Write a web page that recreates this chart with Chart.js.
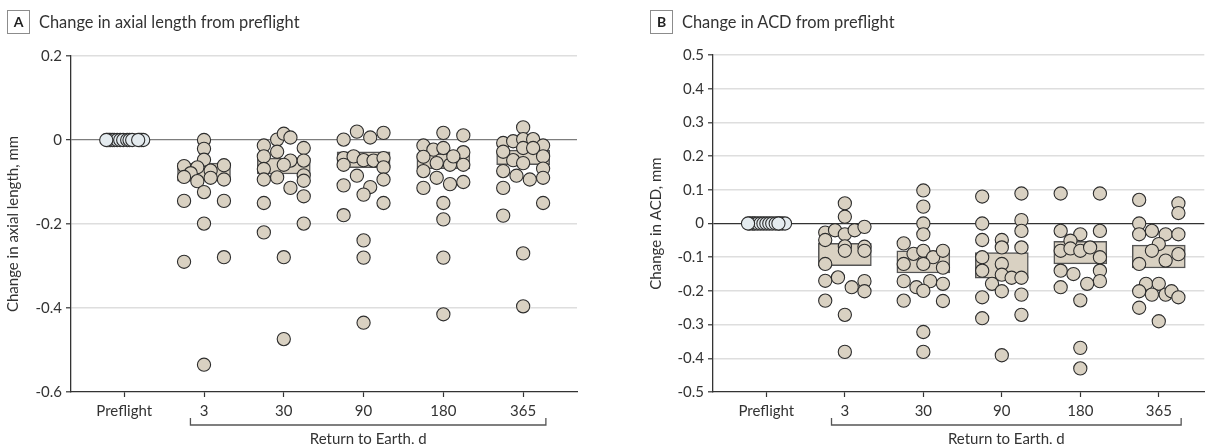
<!DOCTYPE html>
<html>
<head>
<meta charset="utf-8">
<script src="https://cdn.jsdelivr.net/npm/chart.js@4.4.1/dist/chart.umd.min.js"></script>
<style>
body { margin: 0; background: #fff; width: 1212px; height: 444px; overflow: hidden; position: relative; font-family: Lato, sans-serif; color: #333; }
.panel { position: absolute; top: 0; height: 444px; }
.panel canvas { position: absolute; left: 0; top: 0; }
.letter { position: absolute; left: 7px; top: 10px; width: 21px; height: 22px; border: 1px solid #8c8c8c; font: bold 14px Lato, sans-serif; text-align: center; line-height: 22px; color: #222; }
.title { position: absolute; left: 39px; top: 11px; font-size: 16.4px; line-height: 22px; color: #333; }
</style>
</head>
<body>
<div class="panel" style="left:0; width:600px;">
  <canvas id="chart-axial" width="600" height="444"></canvas>
  <div class="letter">A</div>
  <div class="title">Change in axial length from preflight</div>
</div>
<div class="panel" style="left:643px; width:569px;">
  <canvas id="chart-acd" width="569" height="444"></canvas>
  <div class="letter">B</div>
  <div class="title">Change in ACD from preflight</div>
</div>
<script>
var categories = ['Preflight', '3', '30', '90', '180', '365'];

// A: change in axial length, mm (one list per time point)
// slots = beeswarm column of each dot, in 1/12 of a category step
var axialValues = [
    [0, 0, 0, 0, 0, 0, 0, 0, 0, 0, 0, 0, 0, 0, 0, 0],
    [0.000, -0.021, -0.047, -0.062, -0.065, -0.060, -0.079, -0.073, -0.088, -0.090, -0.098, -0.094, -0.124, -0.145, -0.145, -0.199, -0.279, -0.290, -0.535],
    [-0.013, 0.001, 0.015, 0.006, -0.039, -0.028, -0.019, -0.069, -0.049, -0.049, -0.059, -0.084, -0.094, -0.089, -0.097, -0.114, -0.134, -0.150, -0.199, -0.220, -0.279, -0.474],
    [0.001, 0.020, 0.006, 0.017, -0.043, -0.039, -0.048, -0.049, -0.043, -0.059, -0.065, -0.085, -0.094, -0.108, -0.112, -0.130, -0.150, -0.179, -0.239, -0.280, -0.435],
    [0.017, 0.011, -0.013, -0.023, -0.019, -0.029, -0.040, -0.055, -0.059, -0.059, -0.039, -0.074, -0.090, -0.105, -0.100, -0.114, -0.150, -0.189, -0.280, -0.415],
    [0.030, -0.007, -0.003, 0.002, 0.002, -0.013, -0.028, -0.019, -0.019, -0.039, -0.048, -0.055, -0.074, -0.085, -0.094, -0.068, -0.090, -0.114, -0.150, -0.180, -0.270, -0.396]
];
var axialSlots = [
    [-2.55, -2.3, -2.1, -1.8, -1.5, -1.05, -0.6, -0.15, 0.45, 0.8, 1.2, 2.3, 2.55, 2.85, 2.1, -2.7],
    [0, 0, 0, -3, -1, 3, -2, 1, -3, 1, -1, 3, 0, -3, 3, 0, 3, -3, 0],
    [-3, -1, 0, 1, -3, -1, 3, -3, 1, 3, 0, 3, -3, -1, 3, 1, 3, -3, 3, -3, 0, 0],
    [-3, -1, 1, 3, -3, -1.5, 0, 1.5, 3, -3, 3, -1, 3, -3, 1, 0, 3, -3, 0, 0, 0],
    [0, 3, -3, -1.5, 0, 3, -3, -1, 1, 3, 1.5, -3, -1, 1, 3, -3, 0, 0, 0, 0],
    [0, -3, -1.5, 0, 1.5, 3, -3, 0, 1.5, 3, -1.5, 0, -3, -1, 1, 3, 3, -3, 3, -3, 0, 0]
];
var axialBoxLow = [null, -0.098, -0.081, -0.066, -0.068, -0.059];
var axialBoxHigh = [null, -0.055, -0.043, -0.028, -0.033, -0.024];
var axialTicks = [0.2, 0, -0.2, -0.4, -0.6];

// B: change in anterior chamber depth, mm
// slots in 1/8 of a category step
var acdValues = [
    [0, 0, 0, 0, 0, 0, 0, 0, 0, 0, 0, 0, 0, 0, 0],
    [0.060, 0.020, -0.027, -0.020, -0.032, -0.020, -0.010, -0.049, -0.068, -0.081, -0.069, -0.081, -0.120, -0.170, -0.160, -0.189, -0.171, -0.201, -0.229, -0.271, -0.381],
    [0.098, 0.050, 0.000, -0.032, -0.059, -0.090, -0.081, -0.100, -0.081, -0.120, -0.120, -0.131, -0.171, -0.171, -0.189, -0.200, -0.179, -0.229, -0.230, -0.322, -0.381],
    [0.080, 0.089, 0.000, 0.010, -0.022, -0.049, -0.049, -0.071, -0.071, -0.100, -0.120, -0.140, -0.152, -0.161, -0.161, -0.179, -0.201, -0.211, -0.219, -0.281, -0.271, -0.391],
    [0.089, 0.089, -0.022, -0.032, -0.022, -0.051, -0.081, -0.074, -0.081, -0.071, -0.100, -0.140, -0.140, -0.150, -0.171, -0.179, -0.189, -0.228, -0.369, -0.430],
    [0.070, 0.060, 0.031, 0.000, -0.032, -0.022, -0.032, -0.032, -0.061, -0.081, -0.091, -0.120, -0.110, -0.179, -0.179, -0.201, -0.211, -0.211, -0.201, -0.219, -0.250, -0.290]
];
var acdSlots = [
    [-1.7, -1.4, -1.2, -0.9, -0.6, -0.3, 0, 0.3, 0.6, 0.95, 1.3, 1.6, 1.9, 1.23, -1.87],
    [0, 0, -2, -1, 0, 1, 2, -2, 0, 0, 2, 2, -2, -2, -0.7, 0.7, 2, 2, -2, 0, 0],
    [0, 0, 0, 0, -2, -1, 0, 1, 2, -2, 0, 2, -2, 0.7, -0.7, 0, 2, -2, 2, 0, 0],
    [-2, 2, -2, 2, 2, -2, 0, 0, 2, -2, 0, -2, 0, 1, 2, -1, 0, 2, -2, -2, 2, 0],
    [-2, 2, -2, 0, 2, -1, -2, -1, 0, 1, 2, -2, 2, -0.7, 2, 0.7, -2, 0, 0, 0],
    [-2, 2, 2, -2, -2, -0.7, 0.7, 2, 0, -0.7, 2, -2, 0.7, -1.3, 0, -2, -0.7, 0.7, 1.3, 2, -2, 0]
];
var acdBoxLow = [null, -0.125, -0.147, -0.162, -0.120, -0.132];
var acdBoxHigh = [null, -0.059, -0.081, -0.086, -0.053, -0.064];
var acdTicks = [0.5, 0.4, 0.3, 0.2, 0.1, 0, -0.1, -0.2, -0.3, -0.4, -0.5];

Chart.defaults.font.family = 'Lato, sans-serif';
Chart.defaults.color = '#333';

var dotFill = '#d9d1c2';
var preFill = '#e4ebef';
var ink = '#2d2d2d';

// bracket under the postflight days + its label
var bracketPlugin = {
    id: 'returnBracket',
    afterDraw: function(chart) {
        var ctx = chart.ctx;
        var x = chart.scales.x;
        var left = x.getPixelForValue(1 - 0.17);
        var right = x.getPixelForValue(5 + 0.285);
        var y = chart.chartArea.bottom + 33;
        ctx.save();
        ctx.strokeStyle = '#555';
        ctx.lineWidth = 1.3;
        ctx.beginPath();
        ctx.moveTo(left, y - 7);
        ctx.lineTo(left, y);
        ctx.lineTo(right, y);
        ctx.lineTo(right, y - 7);
        ctx.stroke();
        ctx.fillStyle = '#333';
        ctx.font = '15px Lato, sans-serif';
        ctx.textAlign = 'center';
        ctx.textBaseline = 'middle';
        ctx.fillText('Return to Earth, d', (left + right) / 2, y + 14);
        ctx.restore();
    }
};

function points(values, slots, unit, from, to) {
    var out = [];
    for (var g = from; g <= to; g++) {
        for (var i = 0; i < values[g].length; i++) {
            out.push({ x: g + slots[g][i] * unit, y: values[g][i] });
        }
    }
    return out;
}

function boxes(low, high) {
    var out = [];
    for (var g = 1; g < categories.length; g++) {
        out.push({ x: g, y: [low[g], high[g]] });
    }
    return out;
}

function makeChart(id, opts) {
    var config = {
        type: 'scatter',
        data: {
            datasets: [{
                data: points(opts.values, opts.slots, opts.unit, 1, 5),
                backgroundColor: dotFill,
                borderColor: ink,
                borderWidth: 1.1,
                pointRadius: 6.6,
                order: 0
            }, {
                data: points(opts.values, opts.slots, opts.unit, 0, 0),
                backgroundColor: preFill,
                borderColor: ink,
                borderWidth: 1.1,
                pointRadius: 6.6,
                order: 0
            }, {
                type: 'bar',
                data: boxes(opts.boxLow, opts.boxHigh),
                backgroundColor: dotFill,
                borderColor: '#555',
                borderWidth: 1.5,
                borderSkipped: false,
                barThickness: 53,
                order: 1
            }]
        },
        options: {
            responsive: false,
            animation: false,
            events: [],
            layout: { padding: { top: opts.top, right: opts.right, bottom: 0, left: 0 } },
            plugins: { legend: { display: false }, tooltip: { enabled: false } },
            scales: {
                x: {
                    type: 'linear',
                    min: opts.xMin,
                    max: opts.xMax,
                    offset: false,
                    afterBuildTicks: function(scale) {
                        scale.ticks = categories.map(function(c, i) { return { value: i }; });
                    },
                    afterFit: function(scale) { scale.height = 52; },
                    ticks: {
                        autoSkip: false,
                        maxRotation: 0,
                        padding: 5,
                        font: { size: 15 },
                        color: '#333',
                        callback: function(v) { return categories[v]; }
                    },
                    grid: { drawOnChartArea: false, offset: false, tickLength: 5, tickColor: '#333', tickWidth: 1.2 },
                    border: { color: '#333', width: 1.3 }
                },
                y: {
                    min: opts.yMin,
                    max: opts.yMax,
                    afterBuildTicks: function(scale) {
                        scale.ticks = opts.ticks.map(function(v) { return { value: v }; });
                    },
                    afterFit: function(scale) { scale.width = opts.axisWidth; },
                    ticks: {
                        padding: 4,
                        font: { size: 15 },
                        color: '#333',
                        callback: function(v) { return Math.abs(v) < 1e-9 ? '0' : v.toFixed(1); }
                    },
                    grid: {
                        color: function(ctx) {
                            var v = ctx.tick ? ctx.tick.value : 1;
                            if (Math.abs(v) < 1e-9) return opts.zeroColor;
                            if (Math.abs(v - opts.yMin) < 1e-9) return 'rgba(0,0,0,0)';
                            return '#dedede';
                        },
                        lineWidth: function(ctx) {
                            var v = ctx.tick ? ctx.tick.value : 1;
                            return Math.abs(v) < 1e-9 ? 1.3 : 1.6;
                        },
                        tickLength: 5,
                        tickColor: '#333',
                        tickWidth: 1.2
                    },
                    border: { color: '#333', width: 1.3 },
                    title: {
                        display: true,
                        text: opts.yTitle,
                        font: { size: 15 },
                        color: '#333',
                        padding: { top: 4, bottom: 0 }
                    }
                }
            }
        },
        plugins: [bracketPlugin]
    };
    var ctx = document.getElementById(id).getContext('2d');
    return new Chart(ctx, config);
}

makeChart('chart-axial', {
    values: axialValues, slots: axialSlots, unit: 1 / 12,
    boxLow: axialBoxLow, boxHigh: axialBoxHigh, ticks: axialTicks,
    xMin: -0.667, xMax: 5.675, yMin: -0.6, yMax: 0.2,
    top: 56, right: 23, axisWidth: 71,
    zeroColor: '#7d7d7d',
    yTitle: 'Change in axial length, mm'
});

makeChart('chart-acd', {
    values: acdValues, slots: acdSlots, unit: 1 / 8,
    boxLow: acdBoxLow, boxHigh: acdBoxHigh, ticks: acdTicks,
    xMin: -0.68, xMax: 5.58, yMin: -0.5, yMax: 0.5,
    top: 55, right: 1, axisWidth: 70,
    zeroColor: '#333',
    yTitle: 'Change in ACD, mm'
});
</script>
</body>
</html>
